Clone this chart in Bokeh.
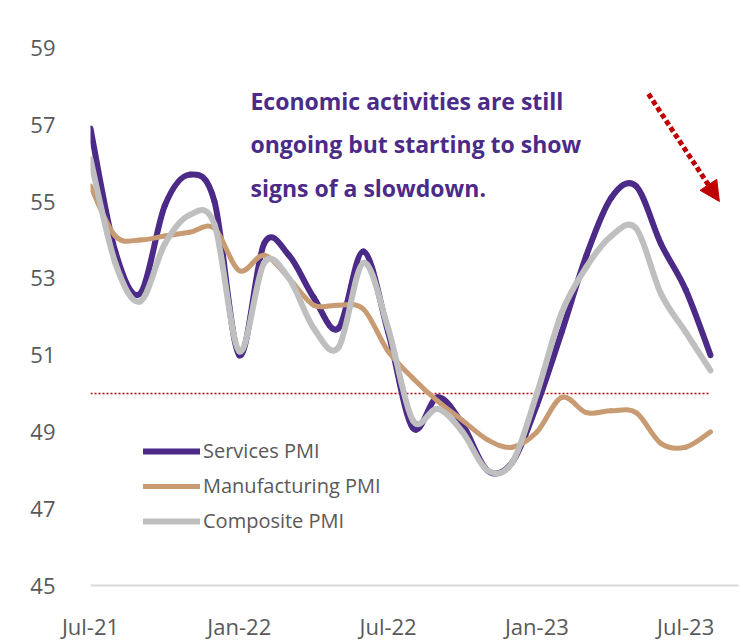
from bokeh.plotting import figure
from bokeh.models import (Legend, LegendItem, Label, Arrow, NormalHead,
                          FixedTicker, ColumnDataSource, Range1d)
from bokeh.embed import file_html
from bokeh.resources import INLINE

# ---- data ----
months = ["Jul-21", "Aug-21", "Sep-21", "Oct-21", "Nov-21", "Dec-21",
          "Jan-22", "Feb-22", "Mar-22", "Apr-22", "May-22", "Jun-22",
          "Jul-22", "Aug-22", "Sep-22", "Oct-22", "Nov-22", "Dec-22",
          "Jan-23", "Feb-23", "Mar-23", "Apr-23", "May-23", "Jun-23",
          "Jul-23", "Aug-23"]
services = [56.9, 53.7, 52.6, 54.9, 55.7, 55.0,
            51.0, 53.9, 53.6, 52.5, 51.7, 53.7,
            51.6, 49.1, 49.9, 49.2, 48.0, 48.2,
            49.7, 51.6, 53.6, 55.1, 55.4, 53.9,
            52.7, 51.0]
manufacturing = [55.4, 54.1, 54.0, 54.1, 54.2, 54.3,
                 53.2, 53.6, 53.0, 52.3, 52.3, 52.2,
                 51.1, 50.4, 49.8, 49.3, 48.8, 48.6,
                 49.0, 49.9, 49.5, 49.55, 49.5, 48.7,
                 48.6, 49.0]
composite = [56.1, 53.4, 52.4, 53.9, 54.65, 54.4,
             51.1, 53.4, 53.0, 51.7, 51.2, 53.4,
             51.7, 49.3, 49.6, 49.0, 48.0, 48.2,
             50.0, 52.1, 53.3, 54.1, 54.3, 52.6,
             51.6, 50.6]
series_names = ["Services PMI", "Manufacturing PMI", "Composite PMI"]
tick_months = ["Jul-21", "Jan-22", "Jul-22", "Jan-23", "Jul-23"]
y_ticks = [45, 47, 49, 51, 53, 55, 57, 59]
threshold = 50
note_lines = ["Economic activities are still",
              "ongoing but starting to show",
              "signs of a slowdown."]

colors = ["#4B2A88", "#C89B72", "#BFBFBF"]
widths = [6, 5, 6]

p = figure(width=743, height=644, output_backend="svg", toolbar_location=None,
           x_range=Range1d(0, 26.13), y_range=Range1d(45, 60),
           min_border_left=90, min_border_right=5, min_border_top=9,
           min_border_bottom=59, background_fill_color="white",
           border_fill_color="white", outline_line_color=None)
p.xgrid.visible = False
p.ygrid.visible = False


def spline_source(vals):
    n = len(vals)
    d = dict(x0=[], y0=[], x1=[], y1=[], cx0=[], cy0=[], cx1=[], cy1=[])
    for i in range(n - 1):
        pm = max(i - 1, 0)
        pp = min(i + 2, n - 1)
        d["x0"].append(i); d["y0"].append(vals[i])
        d["x1"].append(i + 1); d["y1"].append(vals[i + 1])
        d["cx0"].append(i + (i + 1 - pm) / 6.0)
        d["cy0"].append(vals[i] + (vals[i + 1] - vals[pm]) / 6.0)
        d["cx1"].append(i + 1 - (pp - i) / 6.0)
        d["cy1"].append(vals[i + 1] - (vals[pp] - vals[i]) / 6.0)
    return ColumnDataSource(d)


# threshold line at 50
p.segment(x0=[0], y0=[threshold], x1=[len(months) - 1], y1=[threshold],
          line_color="#C00000", line_width=1.5, line_dash="2 2")

renderers = []
for vals, c, w in zip([services, manufacturing, composite], colors, widths):
    r = p.bezier(x0="x0", y0="y0", x1="x1", y1="y1", cx0="cx0", cy0="cy0",
                 cx1="cx1", cy1="cy1", source=spline_source(vals),
                 line_color=c, line_width=w, line_cap="round")
    renderers.append(r)

legend = Legend(items=[LegendItem(label=n, renderers=[r])
                       for n, r in zip(series_names, renderers)],
                location=(53, 51), padding=0, margin=0,
                border_line_color=None, background_fill_alpha=0,
                label_text_font="Open Sans", label_text_font_size="20px",
                label_text_color="#595959", glyph_width=57, glyph_height=20,
                label_height=20, spacing=8, label_standoff=3)
p.add_layout(legend)

# axes
p.xaxis.ticker = FixedTicker(ticks=[months.index(m) for m in tick_months])
p.xaxis.major_label_overrides = {months.index(m): m for m in tick_months}
p.xaxis.axis_line_color = "#D9D9D9"
p.xaxis.axis_line_width = 2
p.xaxis.major_tick_line_color = None
p.xaxis.minor_tick_line_color = None
p.xaxis.major_tick_out = 0
p.xaxis.major_label_standoff = 25
p.xaxis.major_label_text_font = "Open Sans"
p.xaxis.major_label_text_font_size = "22px"
p.xaxis.major_label_text_color = "#595959"

p.yaxis.ticker = FixedTicker(ticks=y_ticks)
p.yaxis.axis_line_color = None
p.yaxis.major_tick_line_color = None
p.yaxis.minor_tick_line_color = None
p.yaxis.major_tick_out = 0
p.yaxis.major_label_standoff = 35
p.yaxis.major_label_text_font = "Open Sans"
p.yaxis.major_label_text_font_size = "22px"
p.yaxis.major_label_text_color = "#595959"

# annotation text
for txt, yv in zip(note_lines, [57.62, 56.5, 55.36]):
    p.add_layout(Label(x=6.45, y=yv, text=txt, text_baseline="middle",
                       text_align="left", text_font="Open Sans",
                       text_font_style="bold", text_font_size="23px",
                       text_color="#4B2A88"))

# dotted red arrow
p.add_layout(Arrow(end=NormalHead(size=20, fill_color="#C00000",
                                  line_color="#C00000"),
                   x_start=22.5, y_start=57.8, x_end=25.36, y_end=55.0,
                   line_color="#C00000", line_width=5, line_dash="5 3"))

open("out.html", "w").write(file_html(p, INLINE))
